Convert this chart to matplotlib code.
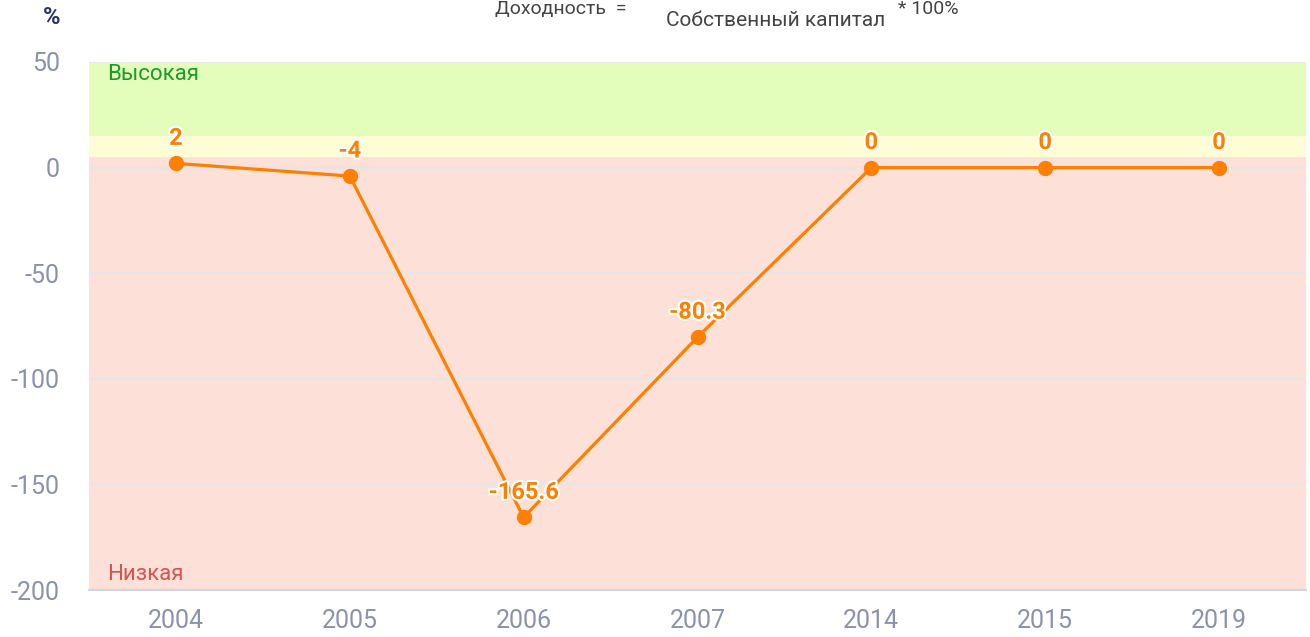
import matplotlib.pyplot as plt
import matplotlib.patheffects as pe

# data
years = ['2004', '2005', '2006', '2007', '2014', '2015', '2019']
values = [2, -4, -165.6, -80.3, 0, 0, 0]
labels = ['2', '-4', '-165.6', '-80.3', '0', '0', '0']

# zones (%)
high_zone = (15, 50)
mid_zone = (5, 15)
low_zone = (-200, 5)

plt.rcParams['font.family'] = ['Roboto', 'DejaVu Sans']

fig = plt.figure(figsize=(13.1, 6.37), dpi=100)
ax = fig.add_axes([89 / 1310, 1 - 590 / 637, (1306 - 89) / 1310, (590 - 62) / 637])

x = list(range(len(years)))
ax.axhspan(*high_zone, color='#e3fdbb', lw=0, zorder=0)
ax.axhspan(*mid_zone, color='#fefdd6', lw=0, zorder=0)
ax.axhspan(*low_zone, color='#fde0d7', lw=0, zorder=0)

for yv in [50, 0, -50, -100, -150]:
    ax.axhline(yv, color='#e6e6e6', lw=1.5, zorder=1)

ax.plot(x, values, color='#ff7f00', lw=2.3, marker='o', ms=10, zorder=3)
for xi, v, t in zip(x, values, labels):
    ax.annotate(t, (xi, v), xytext=(0, 18), textcoords='offset points',
                ha='center', va='center', fontsize=17, fontweight='bold',
                color='#ff7f00', zorder=4,
                path_effects=[pe.withStroke(linewidth=3, foreground='white')])

ax.set_xlim(-0.5, len(years) - 0.5)
ax.set_ylim(-200, 50)
ax.set_xticks(x)
ax.set_xticklabels(years)
ax.set_yticks([50, 0, -50, -100, -150, -200])
ax.set_yticklabels(['50', '0', '-50', '-100', '-150', '-200'])
ax.tick_params(axis='both', length=0, colors='#8a93ad', labelsize=18)
ax.tick_params(axis='x', pad=14)
ax.tick_params(axis='y', pad=21)
for s in ['top', 'right', 'left']:
    ax.spines[s].set_visible(False)
ax.spines['bottom'].set_color('#ccd6eb')
ax.spines['bottom'].set_linewidth(1.5)

ax.text(0.015, 0.977, 'Высокая', transform=ax.transAxes, ha='left', va='center',
        fontsize=16, color='#1f9a2a')
ax.text(0.015, 0.03, 'Низкая', transform=ax.transAxes, ha='left', va='center',
        fontsize=16, color='#d9534f')

# header
fig.text(52 / 1310, 1 - 18 / 637, '%', ha='center', va='center', fontsize=17,
         fontweight='bold', color='#2b3467')
fig.text(561 / 1310, 1 - 9 / 637, 'Доходность  =', ha='center', va='center',
         fontsize=14, color='#444444')
fig.text(776 / 1310, 1 - 21 / 637, 'Собственный капитал', ha='center', va='center',
         fontsize=15, color='#444444')
fig.text(928 / 1310, 1 - 9 / 637, '* 100%', ha='center', va='center',
         fontsize=14, color='#444444')

fig.savefig('out.png', dpi=100)
